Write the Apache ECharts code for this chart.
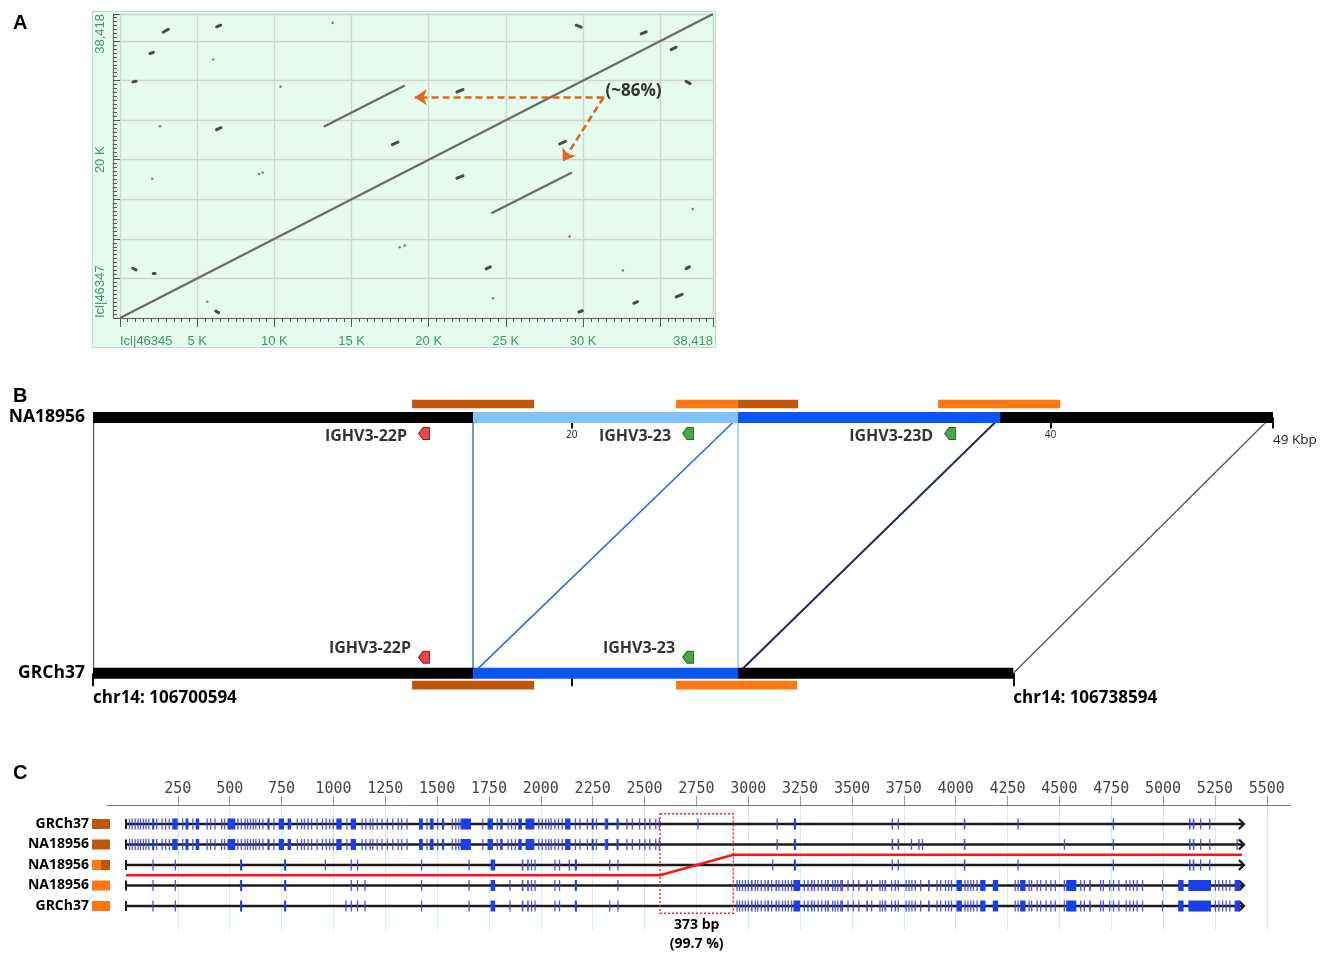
<!DOCTYPE html>
<html><head><meta charset="utf-8">
<script src="https://cdn.jsdelivr.net/npm/echarts@6/dist/echarts.min.js"></script>
<style>html,body{margin:0;padding:0;background:#fff}#c{width:1323px;height:955px}</style>
</head><body><div id="c"></div>
<script>
// ================= Panel A : dot plot (units: K bp) =================
const dotMax = 38.418;
const dotXLabels = [0, 5, 10, 15, 20, 25, 30, 38.418];
const dotYLabels = [0, 20, 38.418];
const dotXName0 = 'Icl|46345';
const dotYName0 = 'Icl|46347';
const dotMainSegments = [
  [0, 0, 38.418, 38.418],
  [13.20, 24.18, 18.45, 29.37],
  [24.06, 13.25, 29.28, 18.39]
];
const dotDashes = [
  [2.80,36.11,3.13,36.49],[6.26,36.80,6.52,37.00],[1.94,33.42,2.16,33.58],[0.84,29.84,1.04,29.91],
  [6.26,23.80,6.54,24.05],[17.65,21.90,18.01,22.24],[21.83,28.57,22.22,28.86],[29.56,37.00,29.88,36.75],
  [33.77,35.91,34.09,36.16],[35.71,33.92,36.03,34.22],[36.68,29.91,36.94,29.62],[28.48,21.99,28.85,22.32],
  [21.83,17.68,22.22,17.97],[0.82,6.29,1.04,6.08],[2.16,5.66,2.27,5.70],[6.21,0.89,6.39,0.67],
  [23.73,6.20,23.99,6.46],[29.73,0.76,29.95,0.92],[33.29,1.86,33.53,2.06],[36.03,2.66,36.42,3.00],
  [36.68,6.24,36.89,6.46]
];
const dotDots = [[6.04,32.66],[13.77,37.30],[10.40,29.24],[2.59,24.22],[2.09,17.59],[9.00,18.19],[9.24,18.39],
  [5.65,2.06],[18.12,8.95],[18.45,9.15],[29.13,10.29],[24.16,2.49],[32.58,5.99],[37.11,13.76]];
const arrowFrom = [31.33, 27.89];
const arrowTargets = [[19.09, 27.89], [28.69, 19.78]];
const arrowLabel = '(~86%)';

// ================= Panel B : synteny (units: kbp) =================
const bMax = 49.3;
const topTrack = [[0, 15.88, 'u'], [15.88, 26.95, 'a'], [26.95, 37.9, 'b'], [37.9, 49.3, 'u']];
const bottomTrack = [[0, 15.88, 'u'], [15.88, 26.95, 'b'], [26.95, 38.45, 'u']];
const topRepeats = [[13.33, 18.43, 'r1'], [24.36, 26.95, 'r2'], [26.95, 29.46, 'r1'], [35.31, 40.41, 'r2']];
const bottomRepeats = [[13.33, 18.43, 'r1'], [24.36, 29.42, 'r2']];
const links = [[0, 0, 'edge'], [15.88, 15.88, 'la'], [26.95, 26.95, 'lb'], [26.95, 15.88, 'lc'], [37.9, 26.95, 'ld'], [49.2, 38.45, 'edge']];
const topGenes = [[13.83, 'IGHV3-22P', 'pseudo'], [24.86, 'IGHV3-23', 'func'], [35.81, 'IGHV3-23D', 'func']];
const bottomGenes = [[13.83, 'IGHV3-22P', 'pseudo'], [24.86, 'IGHV3-23', 'func']];
const trackNames = ['GRCh37', 'NA18956'];
const topScaleTicks = [20, 40, 49.3];
const topScaleLabels = ['20', '40', '49 Kbp'];
const bottomScaleTicks = [0, 20, 38.45];
const bottomScaleLabelValues = [0, 38.45];
const bottomScaleLabels = ['chr14: 106700594', 'chr14: 106738594'];

// ================= Panel C : alignment (units: bp) =================
const cAxisLabels = [250,500,750,1000,1250,1500,1750,2000,2250,2500,2750,3000,3250,3500,3750,4000,4250,4500,4750,5000,5250,5500];
const cRowNames = ['GRCh37', 'NA18956', 'NA18956', 'NA18956', 'GRCh37'];
const cRowKinds = ['r1', 'r1', 'mix', 'r2', 'r2'];
const cTrackEnd = [5385, 5385, 5385, 5385, 5385];
const denseLeft = [[14,3],[27,3],[41,3],[55,3],[67,3],[81,3],[93,3],[107,3],[126,10],[145,3],[171,3],[188,3],[206,3],[223,26],[270,3],[287,14],[319,3],[336,17],[388,3],[405,3],[426,3],[458,3],[472,3],[489,3],[492,35],[536,3],[553,3],[571,3],[583,3],[597,3],[611,3],[623,3],[640,3],[657,3],[682,10],[710,3],[736,26],[779,17],[823,3],[843,3],[857,3],[875,3],[892,3],[918,3],[944,3],[962,3],[979,3],[996,3],[1014,26],[1062,3],[1083,26],[1135,3],[1153,3],[1174,3],[1187,3],[1208,3],[1231,3],[1257,3],[1283,3],[1309,3],[1326,3],[1352,3],[1413,18],[1448,3],[1465,18],[1500,3],[1524,10],[1570,3],[1587,3],[1601,3],[1613,50],[1717,3],[1743,26],[1787,3],[1804,12],[1839,3],[1856,3],[1874,3],[1891,17],[1926,43],[1987,3],[2004,3],[2021,3],[2035,3],[2047,3],[2065,3],[2082,3],[2100,3],[2117,26],[2164,3],[2186,3],[2221,3],[2245,10],[2265,3],[2308,3],[2315,10],[2365,10],[2412,3],[2438,3],[2473,3],[2499,3],[2522,3],[2551,3],[2568,3]];
const denseRight = [[2943,3],[2955,3],[2969,3],[2983,3],[2997,3],[3013,8],[3031,3],[3043,3],[3060,3],[3078,3],[3092,8],[3110,3],[3131,8],[3145,3],[3162,3],[3176,3],[3190,3],[3206,3],[3218,32],[3267,3],[3285,3],[3302,8],[3316,3],[3334,3],[3351,3],[3369,3],[3381,8],[3404,3],[3416,3],[3429,3],[3443,8],[3451,3],[3478,3],[3504,3],[3530,3],[3569,8],[3592,3],[3632,3],[3644,3],[3657,8],[3688,3],[3706,3],[3720,3],[3758,3],[3772,3],[3786,3],[3802,3],[3828,3],[3867,8],[3907,3],[3925,3],[3948,3],[3963,3],[3977,3],[4004,26],[4042,3],[4056,3],[4070,3],[4083,3],[4100,3],[4118,26],[4179,26],[4284,3],[4298,3],[4311,26],[4351,3],[4363,3],[4390,3],[4407,3],[4433,3],[4456,3],[4477,3],[4521,3],[4533,49],[4600,3],[4617,3],[4644,8],[4696,3],[4709,3],[4740,3],[4758,3],[4784,3],[4819,3],[4837,3],[4854,3],[4872,3],[4898,3],[4994,3],[5073,26],[5122,109],[5249,3],[5266,3],[5284,3],[5301,3],[5319,3],[5345,26]];
const row1Right = [[2755,3],[3136,3],[3220,10],[3691,3],[3720,3],[4039,8],[4298,3],[4757,3],[5125,8],[5143,8],[5178,3],[5222,3]];
const row2Right = [[3136,3],[3220,10],[3691,8],[3720,8],[3784,3],[3820,3],[3837,3],[4039,8],[4521,3],[4757,3],[5125,8],[5143,8],[5178,3],[5222,3],[5354,3]];
const row3Marks = [[127,3],[235,3],[550,10],[762,10],[958,3],[1083,3],[1113,3],[1422,3],[1651,3],[1758,22],[1908,8],[1934,8],[1952,3],[1969,3],[2065,3],[2087,3],[2134,3],[2164,10],[2329,3],[2369,3],[3115,3],[3220,10],[3691,3],[3720,3],[4039,8],[4298,3],[4757,3],[5125,8],[5143,8],[5178,3],[5222,3]];
const row4Left = [[127,3],[235,3],[550,10],[762,10],[1083,3],[1113,3],[1149,3],[1422,3],[1651,3],[1758,22],[1848,3],[1908,8],[1934,8],[1952,3],[1969,3],[2065,3],[2087,3],[2164,10],[2369,3]];
const row5Left = [[127,3],[235,3],[550,10],[762,10],[1057,3],[1083,3],[1113,3],[1149,3],[1422,3],[1651,3],[1758,22],[1848,3],[1908,8],[1934,8],[1952,3],[1969,3],[2065,3],[2087,3],[2164,10],[2329,3],[2369,3]];
const cRowMarks = [
  denseLeft.concat(row1Right),
  denseLeft.concat(row2Right),
  row3Marks,
  row4Left.concat(denseRight),
  row5Left.concat(denseRight)
];
const redPath = [[0, 2.5], [2575, 2.5], [2928, 1.5], [5380, 1.5]];
const boxRegion = [2575, 2928];
const boxRows = [-0.5, 4.35];
const boxLabels = ['373 bp', '(99.7 %)'];

// ================= styles =================
const GREEN = '#3c9a60';
const TXT = '"Open Sans", "Noto Sans", "Liberation Sans", sans-serif';
const trackColor = {u: '#000000', a: '#7fc3f9', b: '#0a55f6'};
const repeatColor = {r1: '#c1560b', r2: '#ff7711'};
const linkColor = {edge: '#555555', la: '#6b99d6', lb: '#a9d6fb', lc: '#2a6ef2', ld: '#1b2a6e'};
const geneColor = {pseudo: ['#e8141b', '#7a0000'], func: ['#1f8f1f', '#0b4d0b']};
const geneSymbol = 'path://M0,5 L4,0 L10,0 L10,10 L4,10 Z';

const chart = echarts.init(document.getElementById('c'), null, {renderer: 'canvas', width: 1323, height: 955});

function rectItem(s, y, kindColor) {
  return {value: [s[0], y, s[1]], itemStyle: {color: kindColor}};
}
const bTrackData = topTrack.map(s => rectItem(s, 1, trackColor[s[2]]))
  .concat(bottomTrack.map(s => rectItem(s, 0, trackColor[s[2]])));
const bRepeatData = topRepeats.map(s => rectItem(s, 1, repeatColor[s[2]]))
  .concat(bottomRepeats.map(s => rectItem(s, 0, repeatColor[s[2]])));

const cMarkData = [];
cRowMarks.forEach((marks, row) => marks.forEach(m => cMarkData.push([m[0], row, m[1]])));

const titleStyle = {fontFamily: 'Liberation Sans, Arial', fontWeight: 'bold', fontSize: 20, color: '#000'};
const option = {
  animation: false,
  backgroundColor: '#ffffff',
  title: [
    {text: 'A', left: 8, top: 8, textStyle: titleStyle},
    {text: 'B', left: 8, top: 381, textStyle: titleStyle},
    {text: 'C', left: 8, top: 758, textStyle: titleStyle}
  ],
  graphic: [
    {type: 'rect', z: -10, shape: {x: 92.5, y: 11.5, width: 623, height: 336}, style: {fill: '#e4fbed', stroke: '#c9d3cc', lineWidth: 1}}
  ],
  grid: [
    {left: 120, top: 14, width: 593, height: 304},
    {left: 93, top: 417.5, width: 1180, height: 255.8},
    {left: 107, top: 805, width: 1183, height: 125}
  ],
  xAxis: [
    {gridIndex: 0, type: 'value', min: 0, max: dotMax, interval: 5,
      axisLine: {onZero: false, lineStyle: {color: '#666', width: 1.2}},
      axisTick: {length: 9, lineStyle: {color: '#555'}},
      minorTick: {show: true, splitNumber: 10, length: 4, lineStyle: {color: '#555'}},
      splitLine: {show: true, lineStyle: {color: '#d2d2d2', width: 1.3}},
      axisLabel: {customValues: dotXLabels, margin: 17, color: GREEN, fontSize: 13, fontFamily: 'Liberation Sans, Arial',
        alignMinLabel: 'left', alignMaxLabel: 'right',
        formatter: v => v === 0 ? dotXName0 : (Math.abs(v - dotMax) < 1e-6 ? '38,418' : v + ' K')}},
    {gridIndex: 1, type: 'value', min: 0, max: bMax, position: 'top',
      axisLine: {show: false, onZero: false}, splitLine: {show: false},
      axisTick: {customValues: topScaleTicks, inside: true, length: 11, lineStyle: {color: '#111', width: 2}},
      axisLabel: {customValues: topScaleTicks, inside: true, margin: 13, color: '#222', fontSize: 10, fontFamily: TXT,
        alignMaxLabel: 'left',
        formatter: v => { const i = topScaleTicks.indexOf(v); return i === topScaleTicks.length - 1 ? '{big|' + topScaleLabels[i] + '}' : topScaleLabels[i]; },
        rich: {big: {fontSize: 13.5, fontFamily: TXT, color: '#222', padding: [3, 0, 0, 0]}}}},
    {gridIndex: 1, type: 'value', min: 0, max: bMax, position: 'bottom',
      axisLine: {show: false, onZero: false}, splitLine: {show: false},
      axisTick: {customValues: bottomScaleTicks, length: 13, lineStyle: {color: '#111', width: 2}},
      axisLabel: {customValues: bottomScaleLabelValues, margin: 16, align: 'left', color: '#000', fontSize: 17, fontWeight: 'bold', fontFamily: TXT,
        formatter: v => bottomScaleLabels[bottomScaleLabelValues.indexOf(v)]}},
    {gridIndex: 2, type: 'value', min: -91.6, max: 5612, position: 'top',
      axisLine: {onZero: false, lineStyle: {color: '#777', width: 1}},
      axisTick: {customValues: cAxisLabels, length: 9, lineStyle: {color: '#999'}},
      splitLine: {show: true, lineStyle: {color: '#cdeef6', width: 1}},
      axisLabel: {customValues: cAxisLabels, margin: 8, color: '#444', fontSize: 15, fontFamily: '"DejaVu Sans Mono", monospace',
        formatter: v => String(v)}}
  ],
  yAxis: [
    {gridIndex: 0, type: 'value', min: 0, max: dotMax, interval: 5, offset: 7,
      axisLine: {onZero: false, lineStyle: {color: '#666', width: 1.2}},
      axisTick: {inside: true, length: 7, lineStyle: {color: '#555'}},
      minorTick: {show: true, splitNumber: 10, length: 4, lineStyle: {color: '#555'}},
      splitLine: {show: true, lineStyle: {color: '#d2d2d2', width: 1.3}},
      axisLabel: {customValues: dotYLabels, rotate: 90, margin: 6, color: GREEN, fontSize: 13, fontFamily: 'Liberation Sans, Arial',
        alignMinLabel: 'left', alignMaxLabel: 'right',
        formatter: v => v === 0 ? dotYName0 : (Math.abs(v - dotMax) < 1e-6 ? '38,418' : v + ' K')}},
    {gridIndex: 1, type: 'value', min: 0, max: 1,
      axisLine: {show: false, onZero: false}, axisTick: {show: false}, splitLine: {show: false},
      axisLabel: {customValues: [0, 1], margin: 8, color: '#000', fontSize: 17.5, fontWeight: 'bold', fontFamily: TXT,
        formatter: v => trackNames[Math.round(v)]}},
    {gridIndex: 2, type: 'value', min: -0.927, max: 5.17, inverse: true,
      axisLine: {show: false, onZero: false}, axisTick: {show: false}, splitLine: {show: false},
      axisLabel: {customValues: [0, 1, 2, 3, 4], margin: -3,
        formatter: v => { const i = Math.round(v); const k = cRowKinds[i];
          return '{n|' + cRowNames[i] + '}' + (k === 'mix' ? '{h2|}{h1|}' : '{' + k + '|}'); },
        rich: {
          n: {fontSize: 14, fontWeight: 'bold', fontFamily: TXT, color: '#000', padding: [0, 3, 0, 0]},
          r1: {backgroundColor: repeatColor.r1, width: 18, height: 10},
          r2: {backgroundColor: repeatColor.r2, width: 18, height: 10},
          h1: {backgroundColor: repeatColor.r1, width: 9, height: 10},
          h2: {backgroundColor: repeatColor.r2, width: 9, height: 10}
        }}}
  ],
  series: [
    // ---------- A ----------
    {type: 'lines', coordinateSystem: 'cartesian2d', xAxisIndex: 0, yAxisIndex: 0, z: 3,
      lineStyle: {color: '#6a6a6a', width: 2.2, opacity: 1},
      data: dotMainSegments.map(s => ({coords: [[s[0], s[1]], [s[2], s[3]]]}))},
    {type: 'lines', coordinateSystem: 'cartesian2d', xAxisIndex: 0, yAxisIndex: 0, z: 3,
      lineStyle: {color: '#4a4a4a', width: 3, opacity: 1, cap: 'round'},
      data: dotDashes.map(s => ({coords: [[s[0], s[1]], [s[2], s[3]]]}))},
    {type: 'scatter', xAxisIndex: 0, yAxisIndex: 0, symbolSize: 2.6, itemStyle: {color: '#666'}, z: 3,
      data: dotDots},
    {type: 'lines', coordinateSystem: 'cartesian2d', xAxisIndex: 0, yAxisIndex: 0, z: 5,
      symbol: ['none', 'arrow'], symbolSize: 12,
      lineStyle: {color: '#e2661c', width: 2.6, type: [7, 4], opacity: 1},
      data: arrowTargets.map(t => ({coords: [arrowFrom, t]}))},
    {type: 'scatter', xAxisIndex: 0, yAxisIndex: 0, symbolSize: 0, z: 6,
      data: [arrowFrom],
      label: {show: true, position: 'right', distance: 2, offset: [0, -6], formatter: arrowLabel,
        fontFamily: TXT, fontWeight: 'bold', fontSize: 17, color: '#000'}},
    // ---------- B ----------
    {type: 'lines', coordinateSystem: 'cartesian2d', xAxisIndex: 1, yAxisIndex: 1, z: 2,
      data: links.map(l => ({coords: [[l[0], 1], [l[1], 0]], lineStyle: {color: linkColor[l[2]], width: l[2] === 'lc' ? 1.6 : (l[2] === 'edge' ? 1.3 : 2), opacity: 1}}))},
    {type: 'custom', xAxisIndex: 1, yAxisIndex: 1, z: 4, clip: false,
      data: bTrackData,
      renderItem: (params, api) => {
        const a = api.coord([api.value(0), api.value(1)]);
        const b = api.coord([api.value(2), api.value(1)]);
        return {type: 'rect', shape: {x: a[0], y: a[1] - 5.5, width: b[0] - a[0], height: 11}, style: {fill: api.visual('color')}};
      }},
    {type: 'custom', xAxisIndex: 1, yAxisIndex: 1, z: 4, clip: false,
      data: bRepeatData,
      renderItem: (params, api) => {
        const y = api.value(1);
        const a = api.coord([api.value(0), y]);
        const b = api.coord([api.value(2), y]);
        const off = y === 1 ? -13.5 : 11.8;
        return {type: 'rect', shape: {x: a[0], y: a[1] + off - 4.3, width: b[0] - a[0], height: 8.6}, style: {fill: api.visual('color')}};
      }},
    {type: 'scatter', xAxisIndex: 1, yAxisIndex: 1, z: 5, symbol: geneSymbol, symbolSize: [11, 12], symbolOffset: [0, 16],
      data: topGenes.map(g => ({value: [g[0], 1], name: g[1], itemStyle: {color: geneColor[g[2]][0], borderColor: geneColor[g[2]][1], borderWidth: 1}})),
      label: {show: true, position: 'left', distance: 11, offset: [0, 3], formatter: p => p.name,
        fontFamily: TXT, fontWeight: 'bold', fontSize: 16, color: '#000'}},
    {type: 'scatter', xAxisIndex: 1, yAxisIndex: 1, z: 5, symbol: geneSymbol, symbolSize: [11, 12], symbolOffset: [0, -16],
      data: bottomGenes.map(g => ({value: [g[0], 0], name: g[1], itemStyle: {color: geneColor[g[2]][0], borderColor: geneColor[g[2]][1], borderWidth: 1}})),
      label: {show: true, position: 'left', distance: 7, offset: [0, -9], formatter: p => p.name,
        fontFamily: TXT, fontWeight: 'bold', fontSize: 16, color: '#000'}},
    // ---------- C ----------
    {type: 'custom', xAxisIndex: 3, yAxisIndex: 2, z: 3, clip: false,
      data: cTrackEnd.map((e, row) => [0, row, e]),
      renderItem: (params, api) => {
        const row = api.value(1);
        const a = api.coord([api.value(0), row]);
        const b = api.coord([api.value(2), row]);
        const st = {stroke: '#1a1a1a', lineWidth: 2.4, fill: null};
        return {type: 'group', children: [
          {type: 'line', shape: {x1: a[0], y1: a[1], x2: b[0], y2: b[1]}, style: st},
          {type: 'line', shape: {x1: a[0], y1: a[1] - 5, x2: a[0], y2: a[1] + 5}, style: {stroke: '#1a1a1a', lineWidth: 2}},
          {type: 'polyline', shape: {points: [[b[0] - 4, b[1] - 5], [b[0] + 1, b[1]], [b[0] - 4, b[1] + 5]]}, style: st}
        ]};
      }},
    {type: 'custom', xAxisIndex: 3, yAxisIndex: 2, z: 4, clip: false,
      data: cMarkData,
      renderItem: (params, api) => {
        const p = api.coord([api.value(0), api.value(1)]);
        const w = api.size([api.value(2), 0])[0];
        const thin = w < 1.8;
        return {type: 'rect', shape: {x: p[0], y: p[1] - 5.5, width: Math.max(1.3, w), height: 11},
          style: {fill: thin ? '#3c45d6' : '#1b3fe6', opacity: thin ? 0.9 : 1}};
      }},
    {type: 'lines', coordinateSystem: 'cartesian2d', xAxisIndex: 3, yAxisIndex: 2, z: 5, polyline: true,
      lineStyle: {color: '#ff1414', width: 2.4, opacity: 1},
      data: [{coords: redPath}]},
    {type: 'custom', xAxisIndex: 3, yAxisIndex: 2, z: 6, clip: false,
      data: [[boxRegion[0], boxRows[0], boxRegion[1], boxRows[1]]],
      renderItem: (params, api) => {
        const a = api.coord([api.value(0), api.value(1)]);
        const b = api.coord([api.value(2), api.value(3)]);
        const cx = (a[0] + b[0]) / 2;
        const ts = {fontFamily: TXT, fontWeight: 'bold', fontSize: 14, fill: '#000', align: 'center', verticalAlign: 'middle'};
        return {type: 'group', children: [
          {type: 'rect', shape: {x: a[0], y: a[1], width: b[0] - a[0], height: b[1] - a[1]},
            style: {fill: null, stroke: '#ff1a1a', lineWidth: 1.4, lineDash: [2, 2]}},
          {type: 'text', x: cx, y: b[1] + 12, style: Object.assign({text: boxLabels[0]}, ts)},
          {type: 'text', x: cx, y: b[1] + 31, style: Object.assign({text: boxLabels[1]}, ts)}
        ]};
      }}
  ]
};
chart.setOption(option);
</script>
</body></html>
